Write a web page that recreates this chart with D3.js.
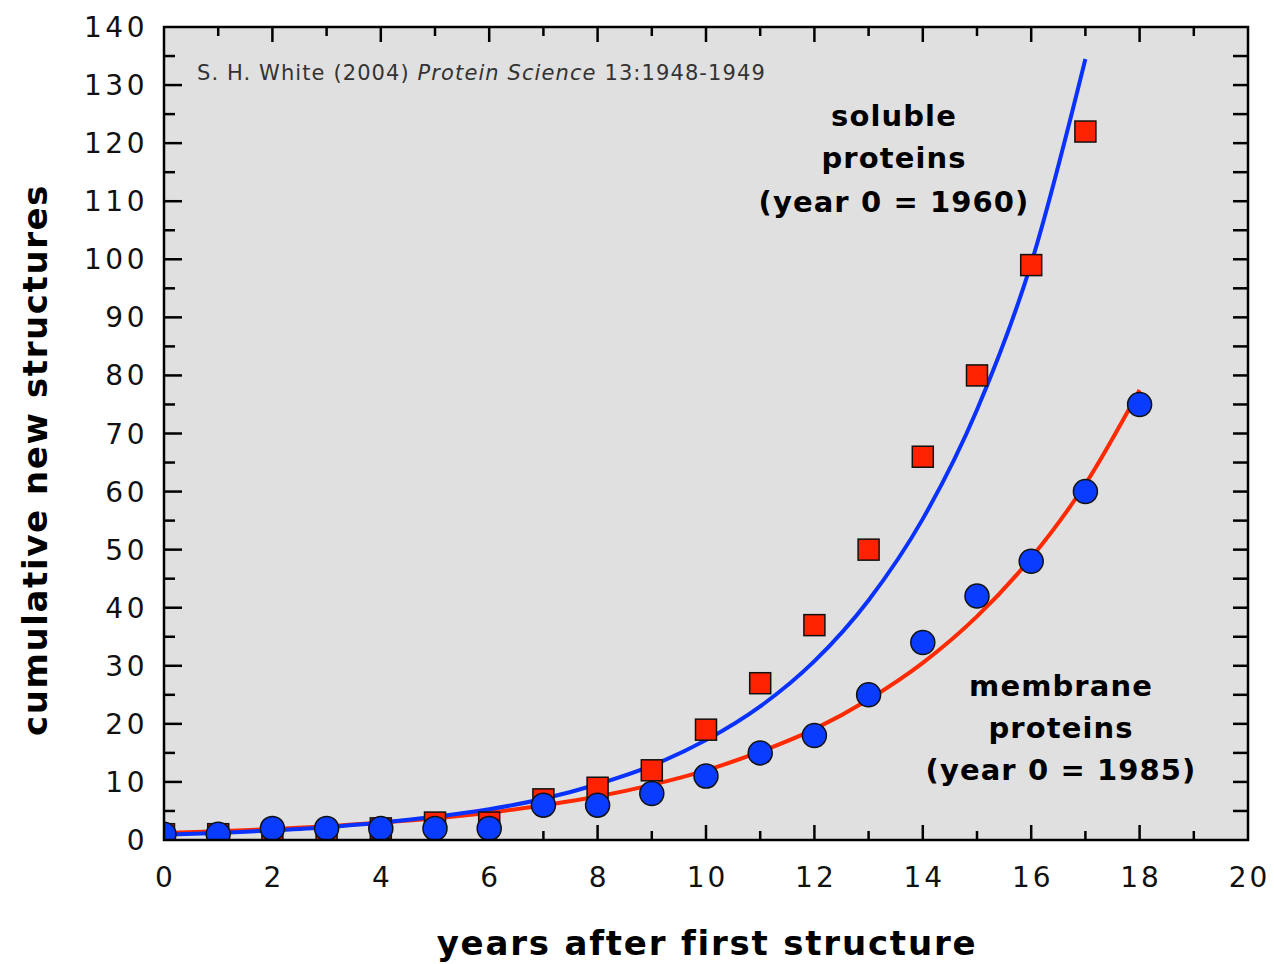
<!DOCTYPE html>
<html><head><meta charset="utf-8">
<script src="https://cdn.jsdelivr.net/npm/d3@7/dist/d3.min.js"></script>
<style>body{margin:0;background:#fff;} svg{display:block;}</style>
</head><body>
<svg id="chart" width="1274" height="964"></svg>
<script>
// ---- data ----
const solubleYears = [0,1,2,3,4,5,6,7,8,9,10,11,12,13,14,15,16,17];
const solubleCounts = [1,1,1,1,2,3,3,7,9,12,19,27,37,50,66,80,99,122];
const membraneYears = [0,1,2,3,4,5,6,7,8,9,10,11,12,13,14,15,16,17,18];
const membraneCounts = [1,1,2,2,2,2,2,6,6,8,11,15,18,25,34,42,48,60,75];
// fitted curves at each year
const solubleFitYears = [0,1,2,3,4,5,6,7,8,9,10,11,12,13,14,15,16,17];
const solubleFit = [0.9,1.2,1.65,2.2,3.0,4.0,5.3,7.1,9.6,12.8,17.2,23.0,30.8,41.3,55.3,74.1,99.3,134.5];
const membraneFitYears = [0,1,2,3,4,5,6,7,8,9,10,11,12,13,14,15,16,17,18];
const membraneFit = [1.2,1.5,1.9,2.35,3.0,3.75,4.7,6.0,7.5,9.5,12.0,15.2,19.1,24.2,30.5,38.5,48.6,61.3,77.5];
const xTicks = [0,2,4,6,8,10,12,14,16,18,20];
const yTicks = [0,10,20,30,40,50,60,70,80,90,100,110,120,130,140];

const svg = d3.select('#chart');
const L = 164, T = 27, R = 1248, B = 840;
const x = d3.scaleLinear().domain([0,20]).range([L,R]);
const y = d3.scaleLinear().domain([0,140]).range([B,T]);
const font = 'DejaVu Sans, sans-serif';

svg.append('rect').attr('x',L).attr('y',T).attr('width',R-L).attr('height',B-T).attr('fill','#e0e0e0');

// ticks (inward on all four sides)
const tk = svg.append('g').attr('stroke','#000').attr('stroke-width',2.5);
d3.range(0,21,1).forEach(v=>{
  const len = v%2===0 ? 15 : 9;
  if (v>0 && v<20){
    tk.append('line').attr('x1',x(v)).attr('x2',x(v)).attr('y1',B).attr('y2',B-len);
    tk.append('line').attr('x1',x(v)).attr('x2',x(v)).attr('y1',T).attr('y2',T+len);
  }
});
d3.range(0,141,5).forEach(v=>{
  const len = v%10===0 ? 18 : 11;
  if (v>0 && v<140){
    tk.append('line').attr('x1',L).attr('x2',L+len).attr('y1',y(v)).attr('y2',y(v));
    tk.append('line').attr('x1',R).attr('x2',R-15).attr('y1',y(v)).attr('y2',y(v));
  }
});

svg.append('clipPath').attr('id','clip').append('rect').attr('x',L).attr('y',T).attr('width',R-L).attr('height',B-T);
const g = svg.append('g').attr('clip-path','url(#clip)');

// annotation
const ann = svg.append('text').attr('x',197).attr('y',80).attr('font-family',font)
  .attr('font-size',21).attr('letter-spacing',1.1).attr('fill','#333');
ann.append('tspan').text('S. H. White (2004) ');
ann.append('tspan').attr('font-style','italic').text('Protein Science');
ann.append('tspan').text(' 13:1948-1949');

// fit lines
const line = d3.line().curve(d3.curveMonotoneX).x(d=>x(d[0])).y(d=>y(d[1]));
g.append('path').datum(membraneFitYears.map((v,i)=>[v,membraneFit[i]]))
  .attr('d',line).attr('fill','none').attr('stroke','#ff2a00').attr('stroke-width',4);
g.append('path').datum(solubleFitYears.map((v,i)=>[v,solubleFit[i]]))
  .attr('d',line).attr('fill','none').attr('stroke','#0a32ff').attr('stroke-width',4);

// markers
const sq = 21;
g.selectAll('rect.sq').data(solubleYears.map((v,i)=>[v,solubleCounts[i]])).enter().append('rect')
  .attr('x',d=>x(d[0])-sq/2).attr('y',d=>y(d[1])-sq/2).attr('width',sq).attr('height',sq)
  .attr('fill','#ff2200').attr('stroke','#111').attr('stroke-width',1.5);
g.selectAll('circle.c').data(membraneYears.map((v,i)=>[v,membraneCounts[i]])).enter().append('circle')
  .attr('cx',d=>x(d[0])).attr('cy',d=>y(d[1])).attr('r',12)
  .attr('fill','#0a3cff').attr('stroke','#111').attr('stroke-width',1.5);

svg.append('rect').attr('x',L).attr('y',T).attr('width',R-L).attr('height',B-T)
  .attr('fill','none').attr('stroke','#000').attr('stroke-width',2.5);

// tick labels
svg.append('g').selectAll('text').data(xTicks).enter().append('text')
  .attr('x',d=>x(d)+1.5).attr('y',887).attr('text-anchor','middle')
  .attr('font-family',font).attr('font-size',28).attr('letter-spacing',3).attr('fill','#111')
  .text(d=>d);
svg.append('g').selectAll('text').data(yTicks).enter().append('text')
  .attr('x',148).attr('y',d=>y(d)+10).attr('text-anchor','end')
  .attr('font-family',font).attr('font-size',28).attr('letter-spacing',3.5).attr('fill','#111')
  .text(d=>d);

// axis titles
svg.append('text').attr('x',707).attr('y',955).attr('text-anchor','middle')
  .attr('font-family',font).attr('font-weight','bold').attr('font-size',34).attr('letter-spacing',1.8).attr('fill','#000')
  .text('years after first structure');
svg.append('text').attr('transform','translate(47,460) rotate(-90)').attr('text-anchor','middle')
  .attr('font-family',font).attr('font-weight','bold').attr('font-size',34).attr('letter-spacing',1.6).attr('fill','#000')
  .text('cumulative new structures');

// series labels
function block(cx, ys, lines){
  lines.forEach((t,i)=>svg.append('text').attr('x',cx).attr('y',ys[i]).attr('text-anchor','middle')
    .attr('font-family',font).attr('font-weight','bold').attr('font-size',29).attr('letter-spacing',1.1).attr('fill','#000').text(t));
}
block(894,[126,168,212],['soluble','proteins','(year 0 = 1960)']);
block(1061,[696,738,780],['membrane','proteins','(year 0 = 1985)']);
</script>
</body></html>
